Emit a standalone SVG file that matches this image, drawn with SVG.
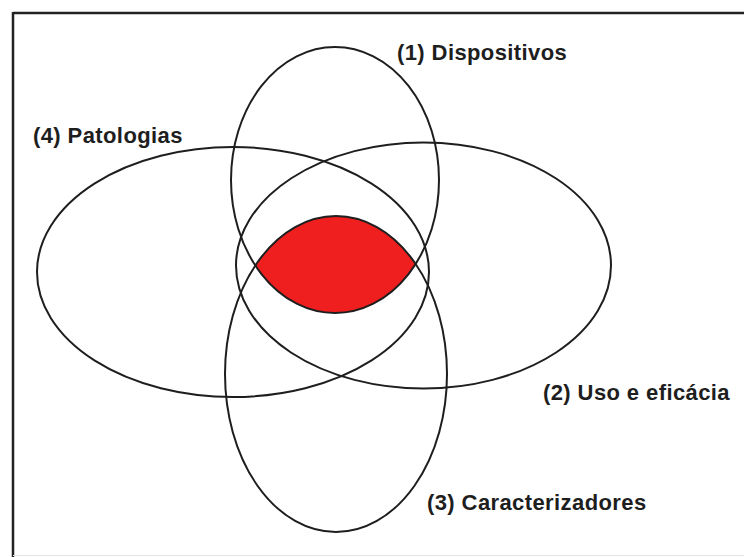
<svg xmlns="http://www.w3.org/2000/svg" width="744" height="557" viewBox="0 0 744 557">
  <style>
    .set { fill: none; stroke: #1e1e1e; stroke-width: 2; }
    .lbl { font-family: "Liberation Sans", Arial, sans-serif; font-weight: bold; font-size: 22px; letter-spacing: 0.4px; fill: #1e1e1e; }
  </style>
  <defs>
    <clipPath id="clip1">
      <ellipse cx="335" cy="180" rx="104" ry="133"/>
    </clipPath>
  </defs>
  <rect x="0" y="0" width="744" height="557" fill="#ffffff"/>
  <g id="frame">
    <line x1="13" y1="13" x2="744" y2="13" stroke="#222" stroke-width="2.5"/>
    <line x1="13" y1="12" x2="13" y2="557" stroke="#222" stroke-width="2.5"/>
    <line x1="13" y1="555.5" x2="744" y2="555.5" stroke="#e4e4e4" stroke-width="1"/>
  </g>
  <g id="intersection">
    <ellipse cx="336" cy="374" rx="111" ry="158" fill="#ef1f1f" clip-path="url(#clip1)"/>
  </g>
  <g id="set1">
    <ellipse class="set" cx="335" cy="180" rx="104" ry="133"/>
    <text class="lbl" x="397" y="60">(1) Dispositivos</text>
  </g>
  <g id="set2">
    <ellipse class="set" cx="423.5" cy="265.5" rx="187.5" ry="123"/>
    <text class="lbl" x="543" y="400">(2) Uso e eficácia</text>
  </g>
  <g id="set3">
    <ellipse class="set" cx="336" cy="374" rx="111" ry="158"/>
    <text class="lbl" x="427" y="510">(3) Caracterizadores</text>
  </g>
  <g id="set4">
    <ellipse class="set" cx="233" cy="272" rx="196" ry="125"/>
    <text class="lbl" x="33" y="143">(4) Patologias</text>
  </g>
</svg>
